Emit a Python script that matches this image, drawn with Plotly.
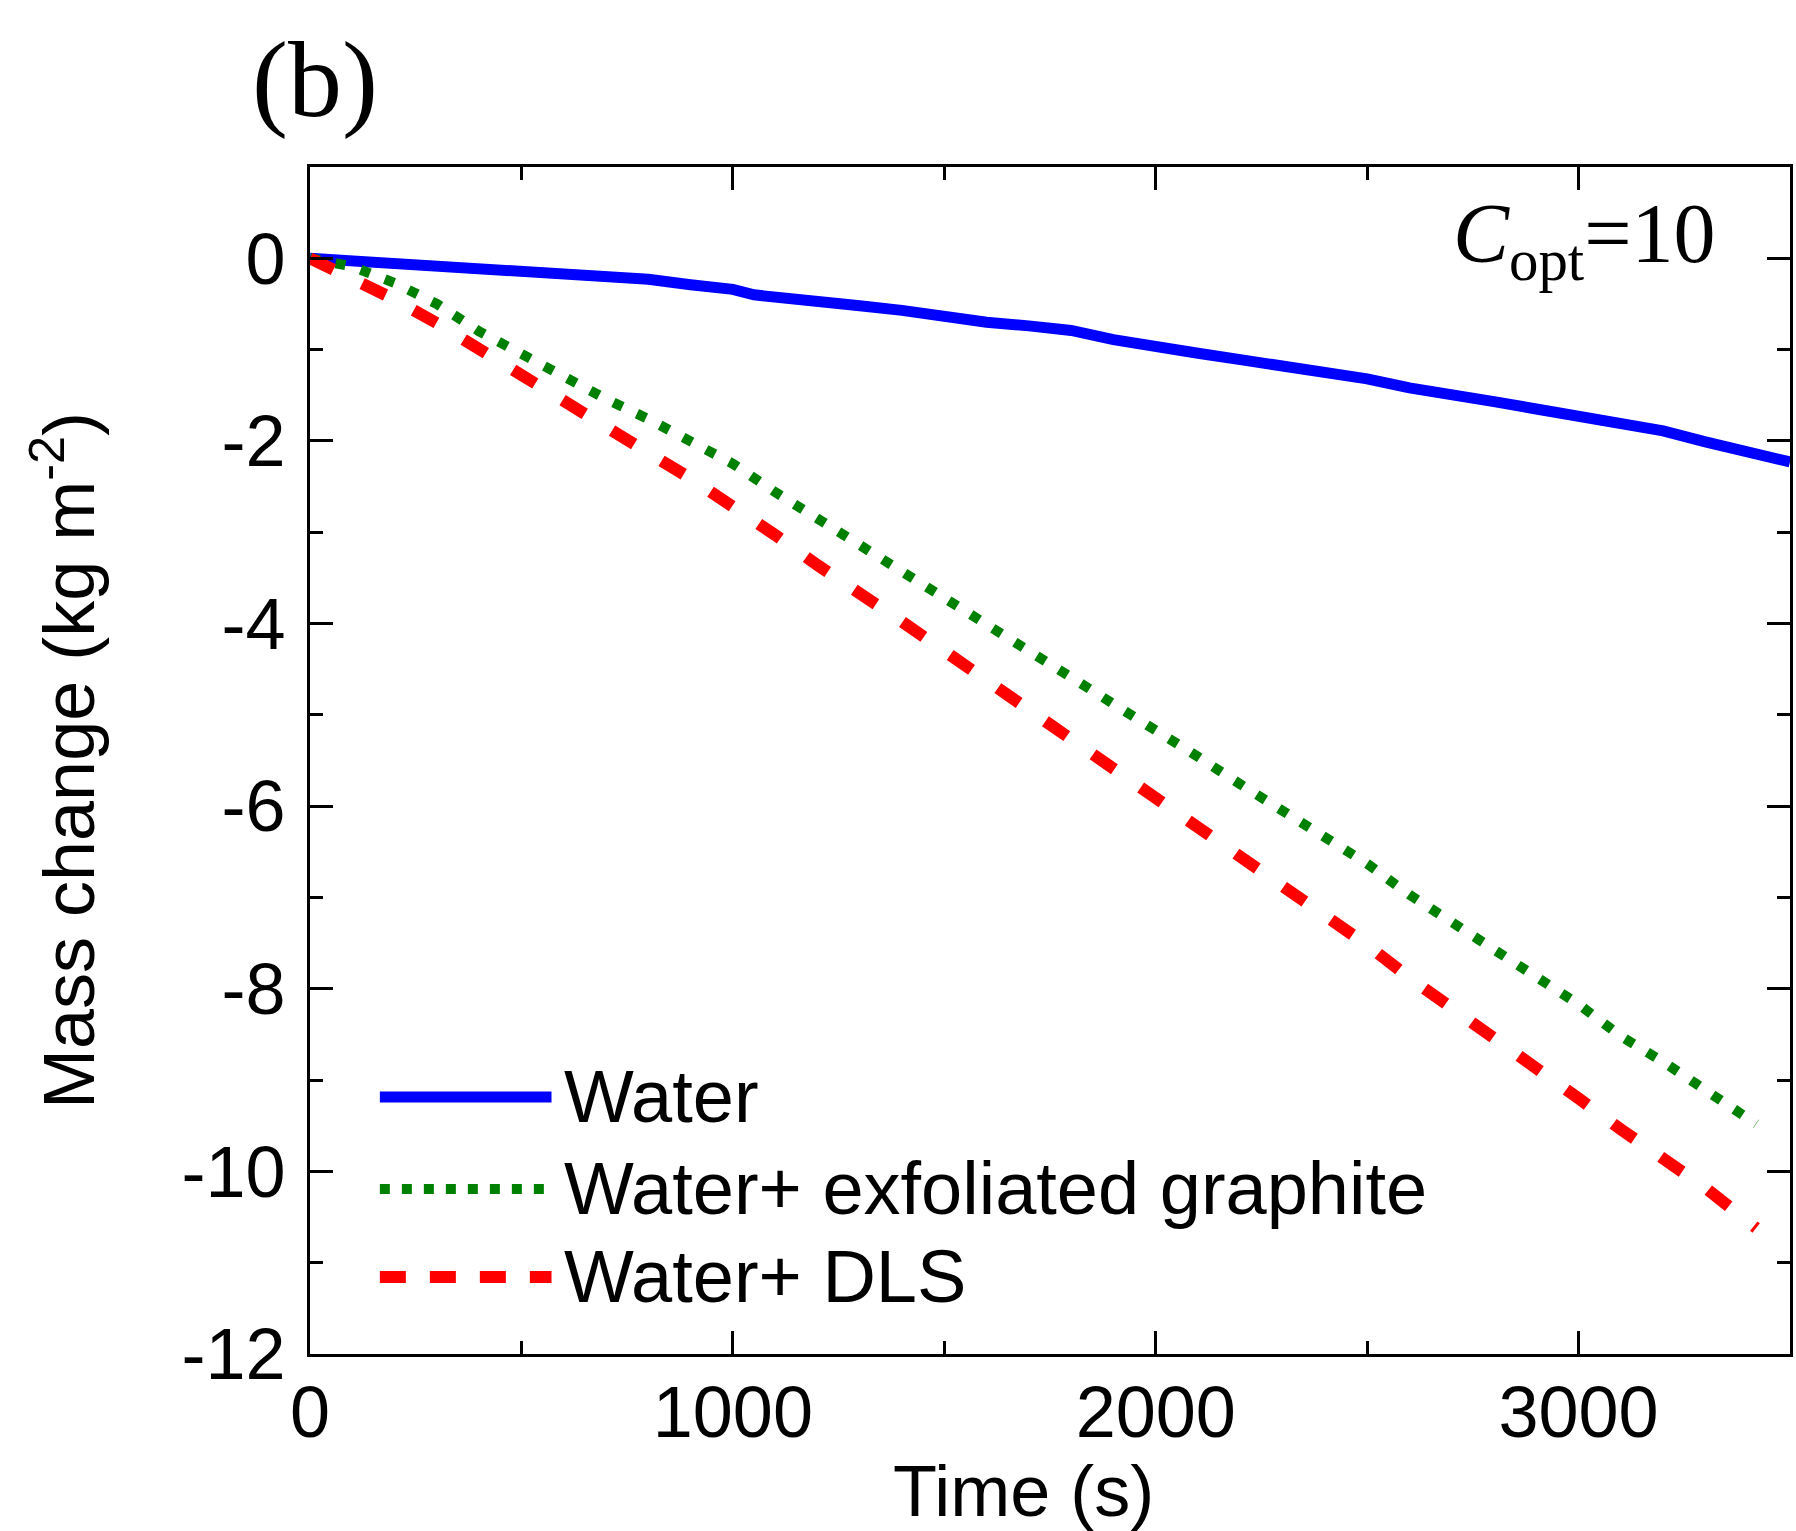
import plotly.graph_objects as go

# ---------------- data ----------------
time_water = [0, 100, 200, 300, 400, 500, 600, 700, 800, 900, 1000, 1050, 1100, 1200, 1300,
              1400, 1500, 1600, 1700, 1800, 1900, 2000, 2100, 2200, 2300, 2400, 2500, 2600,
              2700, 2800, 2900, 3000, 3100, 3200, 3300, 3400, 3500]
mass_water = [0, -0.03, -0.05, -0.08, -0.10, -0.12, -0.15, -0.19, -0.23, -0.29, -0.34, -0.40,
              -0.43, -0.48, -0.52, -0.57, -0.64, -0.70, -0.74, -0.79, -0.89, -0.98, -1.04,
              -1.11, -1.18, -1.24, -1.32, -1.42, -1.48, -1.57, -1.65, -1.73, -1.82, -1.89,
              -2.01, -2.12, -2.23]

time_graphite = [0, 100, 200, 300, 400, 500, 600, 700, 800, 900, 1000, 1100, 1200, 1300, 1400,
                 1500, 1600, 1700, 1800, 1900, 2000, 2100, 2200, 2300, 2400, 2500, 2600, 2700,
                 2800, 2900, 3000, 3100, 3200, 3300, 3420]
mass_graphite = [0, -0.09, -0.27, -0.50, -0.80, -1.05, -1.30, -1.54, -1.76, -1.99, -2.25, -2.56,
                 -2.85, -3.14, -3.41, -3.70, -3.98, -4.27, -4.57, -4.87, -5.17, -5.46, -5.76,
                 -6.05, -6.35, -6.63, -6.97, -7.28, -7.59, -7.87, -8.17, -8.52, -8.80, -9.12,
                 -9.48]

time_dls = [0, 100, 200, 300, 400, 500, 600, 700, 800, 900, 1000, 1100, 1200, 1300, 1400, 1500,
            1600, 1700, 1800, 1900, 2000, 2100, 2200, 2300, 2400, 2500, 2600, 2700, 2800, 2900,
            3000, 3100, 3200, 3300, 3420]
mass_dls = [0, -0.22, -0.45, -0.71, -1.00, -1.28, -1.56, -1.85, -2.13, -2.41, -2.71, -3.03,
            -3.36, -3.66, -3.98, -4.30, -4.62, -4.94, -5.27, -5.59, -5.92, -6.24, -6.55, -6.88,
            -7.21, -7.52, -7.88, -8.20, -8.53, -8.87, -9.20, -9.54, -9.87, -10.18, -10.62]

series_names = ["Water", "Water+ exfoliated graphite", "Water+ DLS"]
series_colors = ["#0000FF", "#008000", "#FF0000"]

x_tick_vals = [0, 1000, 2000, 3000]
x_tick_text = ["0", "1000", "2000", "3000"]
y_tick_vals = [0, -2, -4, -6, -8, -10, -12]
y_tick_text = ["0", "-2", "-4", "-6", "-8", "-10", "-12"]

x_title = "Time (s)"
y_title = "Mass change (kg m<sup>-2</sup>)"

# ---------------- styles ----------------
W, H = 1796, 1531
ML, MR, MT, MB = 310, 3, 167, 177
SANS = "Liberation Sans, Arial, sans-serif"
SERIF = "Liberation Serif, Times New Roman, serif"
FS = 72

plot_dashes = ["solid", "10px,16px", "26px,32px"]
legend_dashes = ["solid", "10px,12px", "26px,24px"]
widths = [11, 10, 12]

fig = go.Figure()
series = [(time_water, mass_water), (time_graphite, mass_graphite), (time_dls, mass_dls)]
for (t, m), name, col, dash, w in zip(series, series_names, series_colors, plot_dashes, widths):
    fig.add_trace(go.Scatter(x=t, y=m, mode="lines", name=name, showlegend=False,
                             line=dict(color=col, width=w, dash=dash)))

pw = W - ML - MR
ph = H - MT - MB
def px_x(p):
    return (p - ML) / pw
def px_y(p):
    return (H - MB - p) / ph

# legend drawn inside the frame (long sample lines, as in the reference)
legend_rows_y = [1097, 1189, 1277]
shapes = []
annotations = []
for name, col, dash, w, ry in zip(series_names, series_colors, legend_dashes, widths, legend_rows_y):
    shapes.append(dict(type="line", xref="paper", yref="paper",
                       x0=px_x(380), x1=px_x(552), y0=px_y(ry), y1=px_y(ry),
                       line=dict(color=col, width=w, dash=dash)))
    annotations.append(dict(text=name, xref="paper", yref="paper", x=px_x(563), y=px_y(ry - 1),
                            xanchor="left", yanchor="middle", showarrow=False,
                            font=dict(family=SANS, size=74, color="black")))

annotations.append(dict(text="<i>C</i><sub>opt</sub>=10", xref="paper", yref="paper",
                        x=px_x(1721), y=px_y(240), xanchor="right", yanchor="middle",
                        showarrow=False, font=dict(family=SERIF, size=84, color="black")))
annotations.append(dict(text="(b)", xref="paper", yref="paper",
                        x=px_x(315), y=px_y(80), xanchor="center", yanchor="middle",
                        showarrow=False, font=dict(family=SERIF, size=108, color="black")))
annotations.append(dict(text=x_title, xref="paper", yref="paper",
                        x=px_x(1025), y=px_y(1491), xanchor="center", yanchor="middle",
                        showarrow=False, font=dict(family=SANS, size=FS, color="black")))

axis_common = dict(showline=True, linecolor="black", linewidth=3, mirror="ticks",
                   ticks="inside", ticklen=23, tickwidth=3, tickcolor="black",
                   showgrid=False, zeroline=False,
                   tickfont=dict(family=SANS, size=FS, color="black"))

fig.update_layout(
    width=W, height=H,
    margin=dict(l=ML, r=MR, t=MT, b=MB, pad=0),
    paper_bgcolor="white", plot_bgcolor="white",
    showlegend=False,
    xaxis=dict(range=[0, 3500], tickmode="array", tickvals=x_tick_vals, ticktext=x_tick_text,
               minor=dict(ticks="inside", ticklen=13, tickwidth=3, tickcolor="black",
                          tickmode="linear", tick0=0, dtick=500, showgrid=False),
               ticklabelstandoff=-6,
               **axis_common),
    yaxis=dict(range=[-12, 1], tickmode="array", tickvals=y_tick_vals, ticktext=y_tick_text,
               minor=dict(ticks="inside", ticklen=13, tickwidth=3, tickcolor="black",
                          tickmode="linear", tick0=0, dtick=1, showgrid=False),
               title=dict(text=y_title, font=dict(family=SANS, size=FS, color="black"),
                          standoff=64),
               ticklabelstandoff=7,
               **axis_common),
    shapes=shapes,
    annotations=annotations,
)

fig.write_html("out.html")
